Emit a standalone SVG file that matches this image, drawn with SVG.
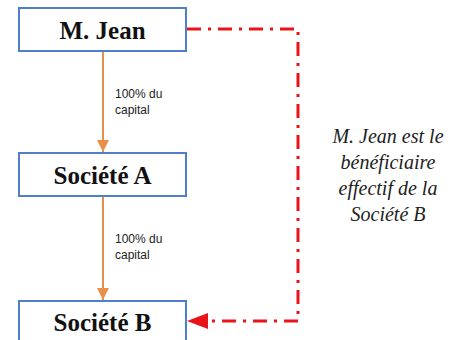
<svg xmlns="http://www.w3.org/2000/svg" width="458" height="340" viewBox="0 0 458 340">
<style>
.box{fill:#fff;stroke:#4f7fc6;stroke-width:2}
.bt{font-family:'Liberation Serif','Times New Roman',serif;font-weight:bold;font-size:25px;fill:#111;text-anchor:middle}
.lbl{font-family:'Liberation Sans',Arial,sans-serif;font-size:12px;fill:#222}
.own{stroke:#e8904a;stroke-width:2;fill:none}
.ben{stroke:#e8141a;stroke-width:3;fill:none;stroke-dasharray:14 7 3 7}
.note{font-family:'Liberation Serif','Times New Roman',serif;font-style:italic;font-size:20px;fill:#222;text-anchor:middle}
</style>
<defs>
<marker id="oa" markerWidth="12" markerHeight="12" refX="12" refY="6" orient="auto" markerUnits="userSpaceOnUse"><path d="M0,0 L12,6 L0,12 Z" fill="#e8904a"/></marker>
</defs>
<rect width="458" height="340" fill="#fff"/>
<g id="connectors">
<line class="own" x1="103" y1="51" x2="103" y2="152" marker-end="url(#oa)"/>
<line class="own" x1="103" y1="196" x2="103" y2="300" marker-end="url(#oa)"/>
<polyline class="ben" points="187,29 298,29 298,321 205,321"/>
<path d="M187,321 L208,313 L208,329 Z" fill="#e8141a"/>
<text class="lbl" x="115" y="98">100% du</text>
<text class="lbl" x="115" y="114">capital</text>
<text class="lbl" x="115" y="243">100% du</text>
<text class="lbl" x="115" y="259">capital</text>
</g>
<g id="mjean"><rect class="box" x="19" y="8" width="167" height="43"/><text class="bt" x="102.5" y="39">M. Jean</text></g>
<g id="societeA"><rect class="box" x="19" y="153" width="167" height="43"/><text class="bt" x="102.5" y="184">Société A</text></g>
<g id="societeB"><rect class="box" x="19" y="301" width="167" height="45"/><text class="bt" x="102.5" y="331">Société B</text></g>
<g id="note">
<text class="note" x="388" y="143">M. Jean est le</text>
<text class="note" x="388" y="169">bénéficiaire</text>
<text class="note" x="388" y="195">effectif de la</text>
<text class="note" x="388" y="221">Société B</text>
</g>
</svg>
